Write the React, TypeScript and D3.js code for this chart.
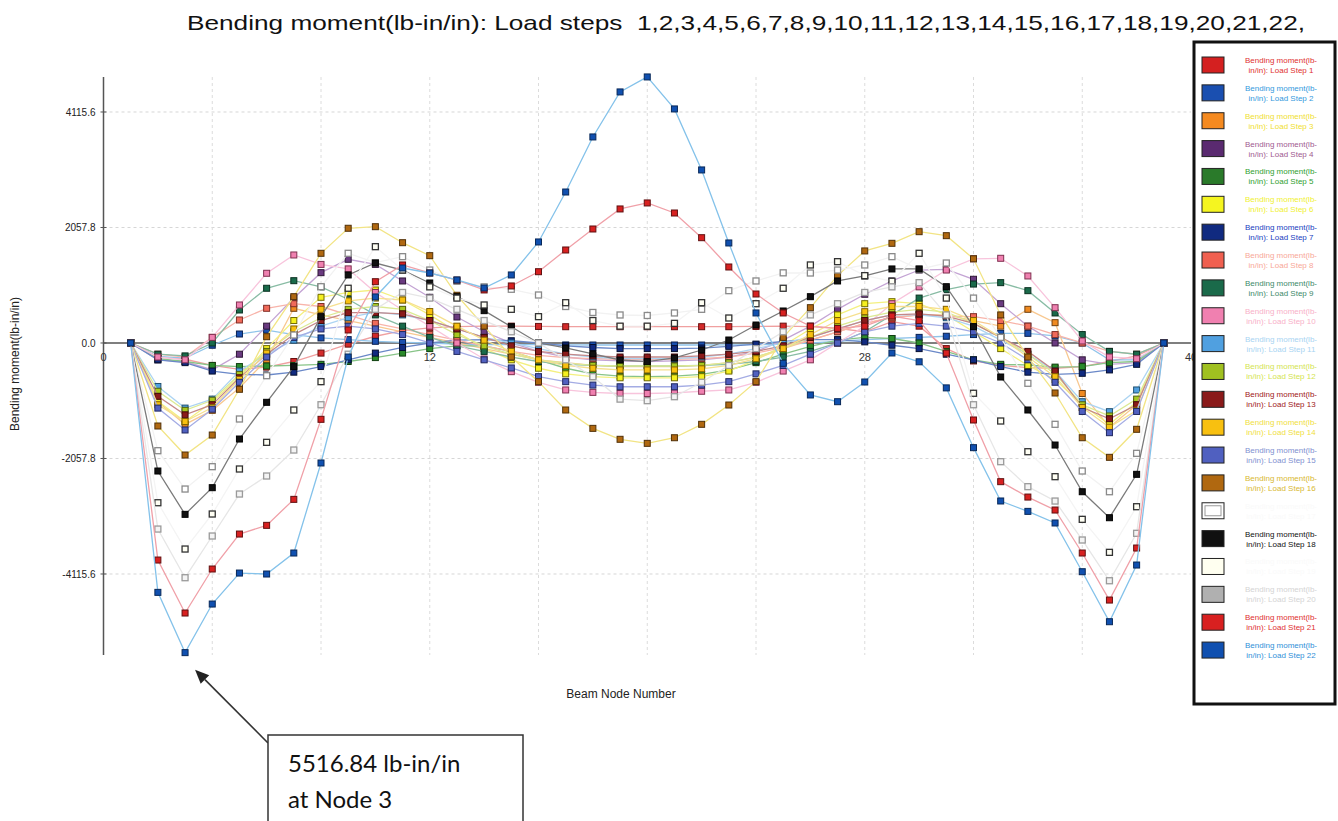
import React from "react";
import * as d3 from "d3";

// ---------- data ----------
const NODES = [1,2,3,4,5,6,7,8,9,10,11,12,13,14,15,16,17,18,19,20,21,22,23,24,25,26,27,28,29,30,31,32,33,34,35,36,37,38,39];

const LS1 = [0,-250,-290,-400,-470,-430,-330,-180,-20,120,
  220,270,290,300,300,295,290,290,290,290,
  290,290,290,295,300,290,260,200,380,300,
  -100,-320,-400,-440,-450,-420,-330,-230,0];
const LS2 = [0,-240,-270,-40,160,230,150,90,60,30,
  10,0,-20,-30,-30,-30,-35,-36,-36,-36,
  -36,-36,-35,-30,-20,0,30,60,80,100,
  120,150,172,172,125,0,-300,-300,0];
const LS3 = [0,-1050,-1450,-1200,-800,-300,618,500,400,300,
  200,100,0,-100,-200,-300,-350,-400,-420,-420,
  -420,-400,-350,-250,-100,50,200,350,450,500,
  500,400,300,600,362,-900,-1500,-1100,0];
const LS4 = [0,-300,-330,-480,-200,300,800,1253,1491,1400,
  1105,814,463,200,0,-150,-250,-300,-320,-330,
  -320,-300,-250,-150,50,300,600,868,1105,1300,
  1313,1135,700,300,0,-300,-380,-350,0];
const LS5 = [0,-280,-330,-400,-420,-410,-400,-380,-330,-260,
  -180,-100,-50,-50,-150,-300,-450,-550,-590,-600,
  -590,-560,-480,-350,-200,-60,50,100,80,0,
  -150,-300,-380,-392,-430,-420,-350,-330,0];
const LS6 = [0,-1040,-1400,-1050,-600,-100,400,814,900,944,
  766,500,200,-100,-300,-450,-550,-600,-620,-620,
  -620,-600,-500,-300,-50,250,500,700,736,700,
  500,200,-100,-400,-650,-1100,-1450,-1050,0];
const LS7 = [0,-300,-350,-500,-560,-570,-520,-420,-300,-180,
  -80,0,50,60,40,0,-50,-80,-100,-100,
  -100,-90,-60,-20,30,60,60,20,-40,-100,
  -200,-300,-420,-520,-560,-540,-480,-380,0];
const LS8 = [0,-200,-250,100,410,618,700,650,500,350,
  250,150,50,-50,-150,-220,-260,-280,-290,-290,
  -290,-280,-250,-180,-80,50,200,350,450,500,
  480,469,400,300,150,0,-150,-200,0];
const LS9 = [0,-200,-230,0,588,975,1110,1000,779,500,
  300,100,-50,-150,-250,-330,-380,-400,-410,-410,
  -410,-400,-380,-330,-250,-150,0,200,500,800,
  950,1050,1075,932,535,150,-150,-200,0];
const LS10 = [0,-250,-300,100,677,1242,1568,1400,1320,900,
  588,300,0,-285,-511,-700,-837,-880,-900,-900,
  -890,-860,-837,-700,-500,-300,0,300,700,1000,
  1300,1500,1509,1194,629,36,-250,-280,0];
const LS11 = [0,-775,-1160,-1000,-500,-200,50,300,450,550,
  500,400,250,100,0,-100,-200,-250,-280,-280,
  -280,-250,-200,-100,0,100,250,400,500,500,
  450,300,50,-200,-500,-1046,-1224,-837,0];
const LS12 = [0,-860,-1200,-1020,-560,-150,200,450,600,650,
  600,400,150,-50,-200,-300,-360,-400,-410,-410,
  -410,-400,-350,-250,-100,100,300,450,550,600,
  550,350,100,-200,-550,-1100,-1300,-1000,0];
const LS13 = [0,-950,-1280,-1100,-620,-200,150,400,540,540,
  520,400,250,100,-50,-150,-200,-230,-250,-250,
  -250,-230,-200,-150,-50,100,250,400,500,520,
  480,350,100,-150,-500,-1150,-1350,-1100,0];
const LS14 = [0,-1100,-1400,-1150,-650,-180,250,600,750,800,
  766,560,300,50,-150,-300,-400,-450,-480,-480,
  -480,-460,-400,-280,-100,150,400,558,650,650,
  600,400,100,-250,-600,-1150,-1500,-1200,0];
const LS15 = [0,-1160,-1550,-1180,-700,-250,100,250,300,250,
  150,0,-150,-300,-445,-600,-689,-750,-780,-780,
  -780,-750,-689,-550,-400,-200,0,200,300,350,
  300,200,0,-300,-700,-1220,-1598,-1220,0];
const LS16 = [0,-1479,-1996,-1640,-825,112,825,1598,2044,2072,
  1787,1556,850,300,-250,-689,-1194,-1521,-1716,-1788,
  -1688,-1449,-1105,-689,100,629,1200,1640,1776,1983,
  1912,1500,500,-250,-891,-1688,-2037,-1538,0];
const LS17 = [0,-1919,-2602,-2204,-1354,-583,142,1003,1598,1431,
  1538,1300,1100,1000,957,855,650,544,499,490,
  535,600,932,1105,1250,1247,1300,1390,1538,1313,
  1425,800,100,-718,-1449,-2281,-2650,-1966,0];
const LS18 = [0,-2281,-3053,-2578,-1711,-1057,-422,469,1212,1425,
  1300,1069,825,576,290,0,-89,-196,-303,-333,
  -267,-125,53,320,570,825,1105,1194,1319,1319,
  1003,291,-606,-1194,-1818,-2650,-3113,-2340,0];
const LS19 = [0,-2846,-3671,-3047,-2245,-1770,-1194,-689,975,1716,
  1300,1000,800,677,600,469,718,400,300,300,
  350,718,445,700,975,1390,1449,1200,1100,1598,
  800,-896,-1390,-1937,-2382,-3142,-3730,-2917,0];
const LS20 = [0,-3315,-4182,-3439,-2691,-2370,-1907,-1100,-200,600,
  900,800,600,400,200,0,-300,-600,-1000,-1028,
  -957,-700,-400,-100,200,500,700,900,1000,1075,
  500,-1100,-2115,-2560,-2816,-3510,-4236,-3391,0];
const LS21 = [0,-3867,-4811,-4027,-3404,-3249,-2786,-1360,232,1092,
  1390,1247,1120,945,1016,1270,1657,2031,2388,2495,
  2316,1876,1354,873,535,300,260,300,480,400,
  -180,-1372,-2471,-2745,-2976,-3742,-4580,-3653,0];
const LS22 = [0,-4443,-5516.84,-4651,-4099,-4116,-3742,-2138,-250,820,
  1336,1247,1123,980,1212,1800,2690,3671,4473,4740,
  4170,3083,1782,535,-362,-926,-1046,-695,-178,-335,
  -800,-1865,-2815,-3000,-3207,-4075,-4966,-3956,0];

const SERIES = [LS1,LS2,LS3,LS4,LS5,LS6,LS7,LS8,LS9,LS10,LS11,LS12,LS13,LS14,LS15,LS16,LS17,LS18,LS19,LS20,LS21,LS22];
const STEP_NUMBERS = [1,2,3,4,5,6,7,8,9,10,11,12,13,14,15,16,17,18,19,20,21,22];

const MARKER_FILL = ["#d42a2a","#1a50b0","#f08a20","#6a3a80","#2a8a2a","#f5f020","#102a80","#f06a5a","#1a6a4a","#f080b0","#50a0e0","#a8c820","#8a1a1a","#f8c010","#5060c0","#b06810","#ffffff","#111111","#fffff4","#f4f4f4","#d82020","#1050b0"];
const MARKER_STROKE = ["#6a1010","#0a2050","#704010","#301838","#104010","#706a00","#050f30","#803028","#0a3020","#803050","#205070","#506010","#400808","#806000","#202860","#503008","#8a8a8a","#000000","#333333","#9a9a9a","#601010","#082858"];
const LINE_COLOR = ["#f0a0a0","#90c4ea","#f8c890","#c4a4d4","#88c488","#f4f080","#6a88c8","#f8b4aa","#88bca4","#f8c4dc","#acd4f2","#dcea94","#c48888","#f6e090","#a4ace4","#f2e484","#f2f2f2","#7a7a7a","#f4f4f4","#e6e6e6","#f0a0a8","#84c2ea"];
const SWATCH = ["#d42020","#1a4fb0","#f58a20","#5a2a70","#2a7a2a","#f5f520","#102a80","#f06050","#1a6a4a","#f080b0","#50a0e0","#a0c020","#8a1a1a","#f8c010","#5060c0","#b06810","#ffffff","#101010","#fffff0","#b0b0b0","#d82020","#1050b0"];
const LEGEND_TEXT = ["#e03030","#3399dd","#f0e030","#a05a90","#30a030","#f0f030","#2040c0","#f8a898","#408a6a","#f8b0c8","#a8d4f2","#d4e450","#a02020","#f0e040","#8090d0","#d8b830","#fafafa","#111111","#fafafa","#d4d4d4","#e03030","#3090d8"];

const Y_TICKS = [-4115.6, -2057.8, 0, 2057.8, 4115.6];
const Y_TICK_LABELS = ["-4115.6", "-2057.8", "0.0", "2057.8", "4115.6"];
const X_TICKS = [0, 12, 28, 40];
const X_GRID = [4, 8, 12, 16, 20, 24, 28, 32, 36];
const TITLE = "Bending moment(lb-in/in): Load steps  1,2,3,4,5,6,7,8,9,10,11,12,13,14,15,16,17,18,19,20,21,22,";
const PEAK_NODE = 3;
const PEAK_VALUE = -5516.84;

export default function App() {
  const W = 1338, H = 821;
  const x = d3.scaleLinear().domain([0, 40]).range([103.5, 1191]);
  const y = d3.scaleLinear().domain([-5559, 4739]).range([655, 77]);
  const line = d3.line<number>().x((_, i) => x(NODES[i])).y((v) => y(v));
  const font = "'Liberation Sans', Arial, sans-serif";
  const ms = 6;

  // arrow geometry
  const tipX = x(PEAK_NODE) + 10, tipY = y(PEAK_VALUE) + 17;
  const tailX = 268, tailY = 743;
  const dx = tipX - tailX, dy = tipY - tailY;
  const len = Math.hypot(dx, dy);
  const ux = dx / len, uy = dy / len;
  const hl = 14, hw = 6;
  const bx = tipX - ux * hl, by = tipY - uy * hl;
  const head = `${tipX},${tipY} ${bx - uy * hw},${by + ux * hw} ${bx + uy * hw},${by - ux * hw}`;

  const legX = 1194, legY = 42, legW = 141, legH = 662;
  const rowH = 27.86;

  return (
    <svg width={W} height={H} style={{ position: "absolute", left: 0, top: 0, background: "#fff" }} fontFamily={font}>
      <rect x={0} y={0} width={W} height={H} fill="#fff" />
      <text x={187} y={30} fontSize={21} fill="#111" textLength={1118} lengthAdjust="spacingAndGlyphs" style={{ whiteSpace: "pre" }}>{TITLE}</text>

      {/* grid */}
      {Y_TICKS.filter((t) => t !== 0).map((t) => (
        <line key={"gy" + t} x1={x(0)} x2={x(40)} y1={y(t)} y2={y(t)} stroke="#d6d6d6" strokeWidth={1} strokeDasharray="3,3" />
      ))}
      {X_GRID.map((g) => (
        <line key={"gx" + g} x1={x(g)} x2={x(g)} y1={77} y2={655} stroke="#dcdcdc" strokeWidth={1} strokeDasharray="3,3" />
      ))}

      {/* axes */}
      <line x1={x(0)} x2={x(0)} y1={77} y2={655} stroke="#555" strokeWidth={1.5} />
      <line x1={x(0)} x2={x(40)} y1={y(0)} y2={y(0)} stroke="#555" strokeWidth={1.5} />
      {Y_TICKS.map((t, i) => (
        <g key={"yt" + t}>
          <line x1={x(0) - 3} x2={x(0) + 3} y1={y(t)} y2={y(t)} stroke="#555" strokeWidth={1} />
          <text x={x(0) - 8} y={y(t) + 4} fontSize={10} fill="#222" textAnchor="end">{Y_TICK_LABELS[i]}</text>
        </g>
      ))}
      {X_TICKS.map((t) => (
        <text key={"xt" + t} x={x(t)} y={y(0) + 18} fontSize={11} fill="#333" textAnchor="middle">{t}</text>
      ))}
      <text x={621} y={698} fontSize={12} fill="#222" textAnchor="middle">Beam Node Number</text>
      <text transform={`translate(19,364) rotate(-90)`} fontSize={12} fill="#222" textAnchor="middle">Bending moment(lb-in/in)</text>

      {/* series */}
      {SERIES.map((vals, si) => (
        <g key={"s" + si}>
          <path d={line(vals) || ""} fill="none" stroke={LINE_COLOR[si]} strokeWidth={1.3} />
          {vals.map((v, i) => (
            <rect key={i} x={x(NODES[i]) - ms / 2} y={y(v) - ms / 2} width={ms} height={ms}
              fill={MARKER_FILL[si]} stroke={MARKER_STROKE[si]} strokeWidth={si === 16 || si === 18 || si === 19 ? 1.3 : 1} />
          ))}
        </g>
      ))}

      {/* legend */}
      <rect x={legX} y={legY} width={legW} height={legH} fill="#fff" stroke="#111" strokeWidth={3} />
      {STEP_NUMBERS.map((n, i) => {
        const cy = 65 + i * rowH;
        return (
          <g key={"lg" + n}>
            <rect x={1202} y={cy - 8} width={22} height={16} fill={SWATCH[i]} stroke="#222" strokeWidth={1} />
            {i === 16 && <rect x={1205} y={cy - 5} width={16} height={10} fill="none" stroke="#999" strokeWidth={1} />}
            <text x={1281} y={cy - 2} fontSize={8} fill={LEGEND_TEXT[i]} textAnchor="middle">Bending moment(lb-</text>
            <text x={1281} y={cy + 8} fontSize={8} fill={LEGEND_TEXT[i]} textAnchor="middle">{`in/in): Load Step ${n}`}</text>
          </g>
        );
      })}

      {/* annotation */}
      <line x1={tailX} y1={tailY} x2={bx} y2={by} stroke="#333" strokeWidth={1.6} />
      <polygon points={head} fill="#222" />
      <rect x={268} y={735} width={255} height={100} fill="#fff" stroke="#333" strokeWidth={1.5} />
      <text x={288} y={772} fontSize={24} fill="#111" fontFamily="Lato, 'Liberation Sans', sans-serif">5516.84 lb-in/in</text>
      <text x={288} y={808} fontSize={24} fill="#111" fontFamily="Lato, 'Liberation Sans', sans-serif">at Node 3</text>
    </svg>
  );
}
